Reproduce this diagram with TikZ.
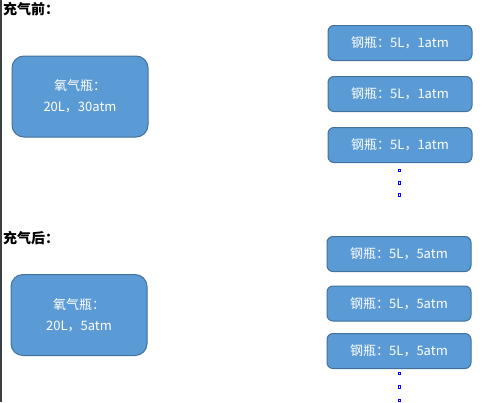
\documentclass[tikz,border=0pt]{standalone}
\usepackage{fontspec}
\usepackage{xcolor}
\usepackage{tikz}
\newfontfamily\cjk{Noto Sans CJK SC}

\definecolor{boxfill}{HTML}{5B9BD5}
\definecolor{boxline}{HTML}{41719C}
\definecolor{edgegray}{HTML}{3A3F44}

\tikzset{
  bigtank/.style={draw=boxline, fill=boxfill, line width=1pt, rounded corners=12pt,
    minimum width=136pt, minimum height=81pt, text=white, align=center,
    font=\cjk\fontsize{13}{21}\selectfont, inner sep=0pt},
  smalltank/.style={draw=boxline, fill=boxfill, line width=1pt, rounded corners=6pt,
    minimum width=144pt, minimum height=35pt, text=white,
    font=\cjk\fontsize{13}{15}\selectfont, inner sep=0pt},
  heading/.style={anchor=west, font=\cjk\bfseries\fontsize{14}{16}\selectfont, inner sep=0pt},
  dot/.style={draw=blue, line width=0.7pt, minimum size=2.4pt, inner sep=0pt}
}

\begin{document}
\begin{tikzpicture}[x=1pt,y=-1pt]
\useasboundingbox (0,0) rectangle (482,402);
% left page edge
\draw[edgegray, line width=1.5pt] (0.75,0) -- (0.75,402);

% before filling
\node[heading] (hdrbefore) at (3,9.5) {充气前：};
\node[bigtank] (o2before) at (80,96.5) {氧气瓶：\\20L，30atm};
\node[smalltank] (cylA1) at (400,43) {钢瓶：5L，1atm};
\node[smalltank] (cylA2) at (400,94) {钢瓶：5L，1atm};
\node[smalltank] (cylA3) at (400,145) {钢瓶：5L，1atm};
\node[dot] (dotA1) at (399.5,170.5) {};
\node[dot] (dotA2) at (399.5,183) {};
\node[dot] (dotA3) at (399.5,195) {};

% after filling
\node[heading] (hdrafter) at (3,238.5) {充气后：};
\node[bigtank] (o2after) at (79,315) {氧气瓶：\\20L，5atm};
\node[smalltank] (cylB1) at (399,254) {钢瓶：5L，5atm};
\node[smalltank] (cylB2) at (399,303.5) {钢瓶：5L，5atm};
\node[smalltank] (cylB3) at (399,351) {钢瓶：5L，5atm};
\node[dot] (dotB1) at (399.5,373.5) {};
\node[dot] (dotB2) at (399.5,387) {};
\node[dot] (dotB3) at (399.5,400.5) {};
\end{tikzpicture}
\end{document}
